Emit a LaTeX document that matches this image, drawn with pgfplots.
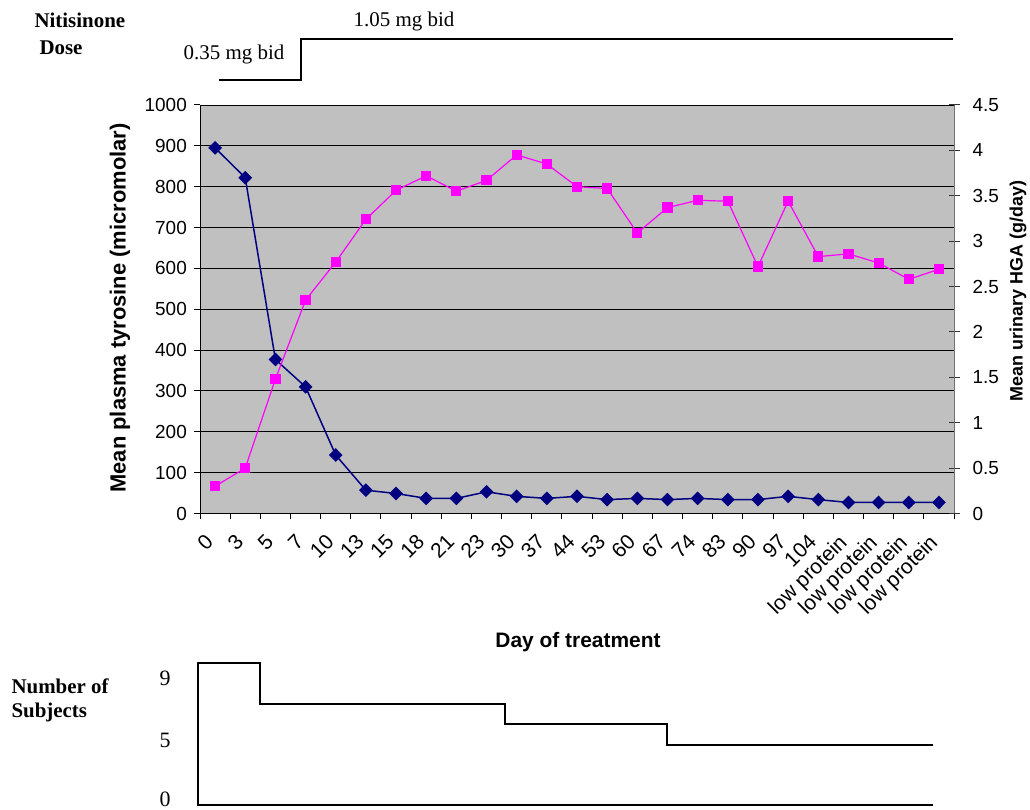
\documentclass[border=0pt]{standalone}
\usepackage{fontspec}
\setmainfont{Liberation Sans}
\newfontfamily\tnr{Liberation Serif}
\usepackage{pgfplots}
\usepackage{pgfplotstable}
\pgfplotsset{compat=1.18}
\definecolor{plotgray}{RGB}{192,192,192}
\definecolor{navyblue}{RGB}{0,0,128}
\definecolor{hotmag}{RGB}{255,0,255}

\pgfplotstableread{
x tyr hga
0 895 0.30
1 822 0.50
2 377 1.48
3 310 2.35
4 143 2.77
5 57 3.24
6 49 3.56
7 37 3.72
8 37 3.55
9 53 3.67
10 42 3.95
11 37 3.85
12 42 3.60
13 34 3.58
14 37 3.09
15 34 3.37
16 37 3.45
17 34 3.44
18 34 2.72
19 42 3.44
20 34 2.83
21 27 2.86
22 27 2.76
23 27 2.58
24 27 2.69
}\datatable

\begin{document}
\begin{tikzpicture}
\path[use as bounding box] (0bp,0bp) rectangle (1030bp,810bp);

% main axis (left)
\begin{axis}[
  at={(200bp,296.5bp)}, anchor=south west,
  scale only axis, width=754bp, height=408.5bp,
  xmin=-0.5, xmax=24.5, ymin=0, ymax=1000,
  axis x line*=bottom, axis y line*=left,
  axis line style={-, black, line width=1bp},
  axis background/.style={fill=plotgray},
  ytick={0,100,...,1000},
  scaled y ticks=false,
  /pgf/number format/1000 sep={},
  /pgf/number format/assume math mode=true,
  ymajorgrids, grid style={black, line width=0.9bp},
  xtick={0,...,24},
  xticklabels={0,3,5,7,10,13,15,18,21,23,30,37,44,53,60,67,74,83,90,97,104,low protein,low protein,low protein,low protein},
  major x tick style={draw=none},
  minor xtick={-0.5,0.5,...,24.5},
  minor x tick style={black, line width=1bp},
  minor tick length=6bp, major tick length=6bp,
  tick align=outside,
  ytick style={black, line width=1bp},
  yticklabel style={font=\fontsize{19}{22}\selectfont, inner sep=2bp, xshift=-5bp},
  xticklabel style={font=\fontsize{21}{24}\selectfont, xshift=-11bp, yshift=-12bp, rotate=45, anchor=north east, inner sep=1bp},
  clip=false,
]
\addplot[navyblue, line width=1.5bp, mark=diamond*, mark size=5.8bp, mark options={xscale=1.33, solid, fill=navyblue}] table[x=x,y=tyr]{\datatable};
\end{axis}

% right axis
\begin{axis}[
  at={(200bp,296.5bp)}, anchor=south west,
  scale only axis, width=754bp, height=408.5bp,
  xmin=-0.5, xmax=24.5, ymin=0, ymax=4.5,
  axis y line*=right, axis x line=none, xtick=\empty,
  y axis line style={-, black!55, line width=1bp},
  ytick={0,0.5,...,4.5},
  /pgf/number format/assume math mode=true,
  tick align=center, major tick length=11bp,
  ytick style={black!80, line width=1bp},
  yticklabel style={font=\fontsize{19}{22}\selectfont, inner sep=2bp, xshift=11bp},
  clip=false,
]
\addplot[hotmag, line width=1.2bp, mark=square*, mark size=4.5bp, mark options={solid, fill=hotmag}] table[x=x,y=hga]{\datatable};
\end{axis}

% dose axis
\begin{axis}[
  at={(200bp,730bp)}, anchor=south west,
  scale only axis, width=754bp, height=41bp,
  xmin=-0.5, xmax=24.5, ymin=0.35, ymax=1.05,
  hide axis, clip=false,
]
\addplot[black, line width=2bp, const plot, mark=none] coordinates {(0.13,0.35) (2.85,1.05) (24.47,1.05)};
\end{axis}

% subjects axis
\begin{axis}[
  at={(200bp,5bp)}, anchor=south west,
  scale only axis, width=754bp, height=142bp,
  xmin=-0.5, xmax=24.5, ymin=0, ymax=9,
  hide axis, clip=false,
]
\addplot[black, line width=2bp, mark=none, line join=miter] coordinates {(23.8,0) (-0.57,0) (-0.57,9) (1.49,9) (1.49,6.4) (9.61,6.4) (9.61,5.13) (14.98,5.13) (14.98,3.8) (23.8,3.8)};
\end{axis}

% texts
\node[anchor=west, font=\tnr\bfseries\fontsize{21}{24}\selectfont] at (31bp,790bp) {Nitisinone};
\node[anchor=west, font=\tnr\bfseries\fontsize{21}{24}\selectfont] at (36bp,762bp) {Dose};
\node[font=\tnr\fontsize{21}{24}\selectfont] at (404bp,788bp) {1.05 mg bid};
\node[font=\tnr\fontsize{21}{24}\selectfont] at (234bp,755bp) {0.35 mg bid};
\node[anchor=west, font=\tnr\bfseries\fontsize{21}{24}\selectfont] at (8bp,124bp) {Number of};
\node[anchor=west, font=\tnr\bfseries\fontsize{21}{24}\selectfont] at (8bp,98bp) {Subjects};
\node[font=\tnr\fontsize{22}{24}\selectfont] at (165bp,132bp) {9};
\node[font=\tnr\fontsize{22}{24}\selectfont] at (165bp,70bp) {5};
\node[font=\tnr\fontsize{22}{24}\selectfont] at (165bp,11bp) {0};
\node[font=\bfseries\fontsize{21}{24}\selectfont] at (578bp,168bp) {Day of treatment};
\node[rotate=90, font=\bfseries\fontsize{22}{24}\selectfont] at (120bp,502bp) {Mean plasma tyrosine (micromolar)};
\node[rotate=90, font=\bfseries\fontsize{18}{22}\selectfont] at (1018bp,519bp) {Mean urinary HGA (g/day)};
\end{tikzpicture}
\end{document}
